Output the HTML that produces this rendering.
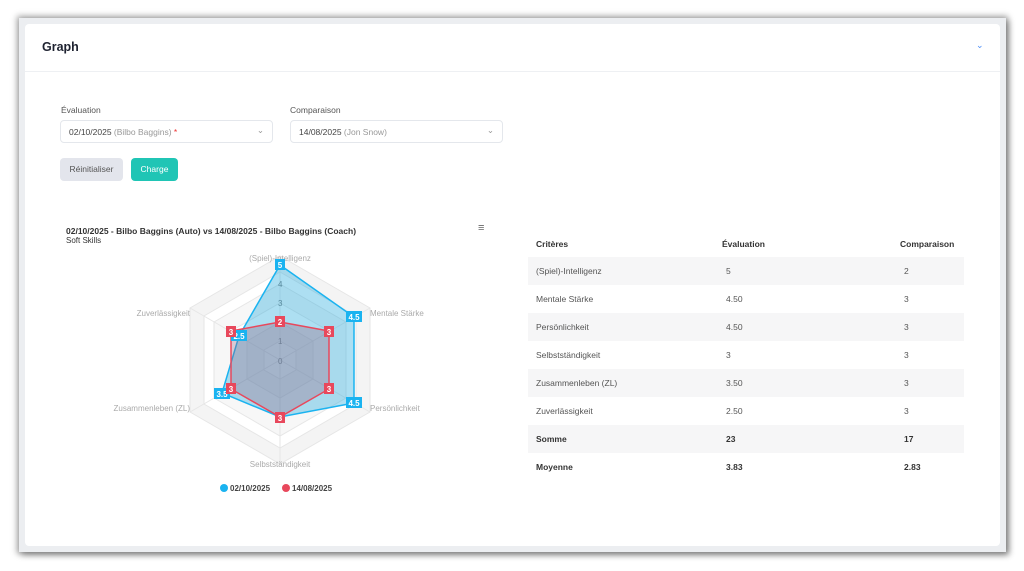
<!DOCTYPE html>
<html><head><meta charset="utf-8"><style>
*{box-sizing:border-box;margin:0;padding:0}
body{width:1024px;height:571px;background:#fff;font-family:"Liberation Sans",sans-serif;position:relative;overflow:hidden}
.frame{position:absolute;left:19px;top:18px;width:987px;height:534px;background:#eceef1;box-shadow:0 0 6px 2px rgba(0,0,0,.35),3px 3px 6px rgba(0,0,0,.3)}
.card{position:absolute;left:25px;top:24px;width:975px;height:522px;background:#fff;border-radius:4px}
.hdr{position:absolute;left:0;top:0;width:975px;height:48px;border-bottom:1px solid #eef0f3}
.t{position:absolute;white-space:nowrap}
.sel{position:absolute;height:23px;border:1px solid #e4e7ec;border-radius:4px;background:#fff;font-size:8.5px;color:#444;padding:6px 8px}
.sel i{font-style:normal;color:#999}
.btn{position:absolute;height:23px;border-radius:4px;font-size:8.5px;text-align:center;line-height:23px}
.row{position:absolute;left:528px;width:436px;height:28px;font-size:8.5px;color:#555}
.row.g{background:#f6f6f7}
.row span{position:absolute;top:9px}
</style></head><body>
<div class="frame"></div>
<div class="card">
 <div class="hdr">
  <div class="t" style="left:17px;top:16px;font-size:12.5px;font-weight:bold;color:#1e2230">Graph</div>
  <div class="t" style="left:951px;top:16px;font-size:9px;color:#4a8cf7">&#8964;</div>
 </div>
</div>
<div class="t" style="left:61px;top:105px;font-size:8.5px;color:#555">Évaluation</div>
<div class="t" style="left:290px;top:105px;font-size:8.5px;color:#555">Comparaison</div>
<div class="sel" style="left:60px;top:120px;width:213px">02/10/2025 <i>(Bilbo Baggins)</i> <span style="color:#e33">*</span><span style="position:absolute;right:8px;top:4px;color:#999">&#8964;</span></div>
<div class="sel" style="left:290px;top:120px;width:213px">14/08/2025 <i>(Jon Snow)</i><span style="position:absolute;right:8px;top:4px;color:#999">&#8964;</span></div>
<div class="btn" style="left:60px;top:158px;width:63px;background:#e3e5ec;color:#555">Réinitialiser</div>
<div class="btn" style="left:131px;top:158px;width:47px;background:#20c5b5;color:#fff">Charge</div>

<div class="t" style="left:66px;top:226px;font-size:8.5px;font-weight:bold;color:#333">02/10/2025 - Bilbo Baggins (Auto) vs 14/08/2025 - Bilbo Baggins (Coach)</div>
<div class="t" style="left:66px;top:236px;font-size:8px;color:#333">Soft Skills</div>
<div class="t" style="left:478px;top:222px;font-size:11px;color:#666">&#8801;</div>

<svg style="position:absolute;left:0;top:0" width="1024" height="571">
 <g stroke="#e6e6e6" stroke-width="1">
  <polygon points="280,256 370,308 370,412 280,464 190,412 190,308" fill="#f4f4f4"/>
  <polygon points="280,272 356,316 356,404 280,448 204,404 204,316" fill="#fff"/>
  <polygon points="280,284 346,322 346,398 280,436 214,398 214,322" fill="#f7f7f7"/>
  <polygon points="280,303 329,331 329,389 280,417 231,389 231,331" fill="#fff"/>
  <polygon points="280,322 313,341 313,379 280,398 247,379 247,341" fill="#f7f7f7"/>
  <polygon points="280,341 296,350 296,370 280,379 264,370 264,350" fill="#fff"/>
  <line x1="280" y1="360" x2="280" y2="256"/><line x1="280" y1="360" x2="370" y2="308"/><line x1="280" y1="360" x2="370" y2="412"/>
  <line x1="280" y1="360" x2="280" y2="464"/><line x1="280" y1="360" x2="190" y2="412"/><line x1="280" y1="360" x2="190" y2="308"/>
 </g>
 <g font-family="Liberation Sans" font-size="8" fill="#aaa">
  <text x="280" y="261" text-anchor="middle">(Spiel)-Intelligenz</text>
  <text x="370" y="316">Mentale Stärke</text>
  <text x="370" y="411">Persönlichkeit</text>
  <text x="280" y="467" text-anchor="middle">Selbstständigkeit</text>
  <text x="190" y="411" text-anchor="end">Zusammenleben (ZL)</text>
  <text x="190" y="316" text-anchor="end">Zuverlässigkeit</text>
  <g fill="#777"><text x="278" y="364">0</text><text x="278" y="344">1</text><text x="278" y="306">3</text><text x="278" y="287">4</text></g>
 </g>
 <polygon points="280,265 354,317 354,403 280,417 222,393 239,336" fill="rgba(40,170,220,.38)" stroke="#1ab3f0" stroke-width="1.5"/>
 <polygon points="280,322 329,331 329,389 280,417 231,389 231,331" fill="rgba(150,100,130,.35)" stroke="#e8485c" stroke-width="1.5"/>
 <g font-family="Liberation Sans" font-size="8" font-weight="bold" fill="#fff" text-anchor="middle">
  <rect x="275" y="259" width="10" height="11" fill="#1ab3f0"/><text x="280" y="268">5</text>
  <rect x="346" y="311" width="16" height="11" fill="#1ab3f0"/><text x="354" y="320">4.5</text>
  <rect x="346" y="397" width="16" height="11" fill="#1ab3f0"/><text x="354" y="406">4.5</text>
  <rect x="214" y="388" width="16" height="11" fill="#1ab3f0"/><text x="222" y="397">3.5</text>
  <rect x="231" y="330" width="16" height="11" fill="#1ab3f0"/><text x="239" y="339">2.5</text>
  <rect x="275" y="316" width="10" height="11" fill="#e8485c"/><text x="280" y="325">2</text>
  <rect x="324" y="326" width="10" height="11" fill="#e8485c"/><text x="329" y="335">3</text>
  <rect x="324" y="383" width="10" height="11" fill="#e8485c"/><text x="329" y="392">3</text>
  <rect x="275" y="412" width="10" height="11" fill="#e8485c"/><text x="280" y="421">3</text>
  <rect x="226" y="383" width="10" height="11" fill="#e8485c"/><text x="231" y="392">3</text>
  <rect x="226" y="326" width="10" height="11" fill="#e8485c"/><text x="231" y="335">3</text>
 </g>
 <circle cx="224" cy="488" r="4" fill="#1ab3f0"/><circle cx="286" cy="488" r="4" fill="#e8485c"/>
 <g font-family="Liberation Sans" font-size="8" font-weight="bold" fill="#444">
  <text x="230" y="491">02/10/2025</text><text x="292" y="491">14/08/2025</text>
 </g>
</svg>

<div class="row" style="top:229px;font-weight:bold;color:#333"><span style="left:8px;top:10px">Critères</span><span style="left:194px;top:10px">Évaluation</span><span style="left:372px;top:10px">Comparaison</span></div>
<div class="row g" style="top:257px"><span style="left:8px">(Spiel)-Intelligenz</span><span style="left:198px">5</span><span style="left:376px">2</span></div>
<div class="row" style="top:285px"><span style="left:8px">Mentale Stärke</span><span style="left:198px">4.50</span><span style="left:376px">3</span></div>
<div class="row g" style="top:313px"><span style="left:8px">Persönlichkeit</span><span style="left:198px">4.50</span><span style="left:376px">3</span></div>
<div class="row" style="top:341px"><span style="left:8px">Selbstständigkeit</span><span style="left:198px">3</span><span style="left:376px">3</span></div>
<div class="row g" style="top:369px"><span style="left:8px">Zusammenleben (ZL)</span><span style="left:198px">3.50</span><span style="left:376px">3</span></div>
<div class="row" style="top:397px"><span style="left:8px">Zuverlässigkeit</span><span style="left:198px">2.50</span><span style="left:376px">3</span></div>
<div class="row g" style="top:425px;font-weight:bold;color:#333"><span style="left:8px">Somme</span><span style="left:198px">23</span><span style="left:376px">17</span></div>
<div class="row" style="top:453px;font-weight:bold;color:#333"><span style="left:8px">Moyenne</span><span style="left:198px">3.83</span><span style="left:376px">2.83</span></div>
</body></html>
